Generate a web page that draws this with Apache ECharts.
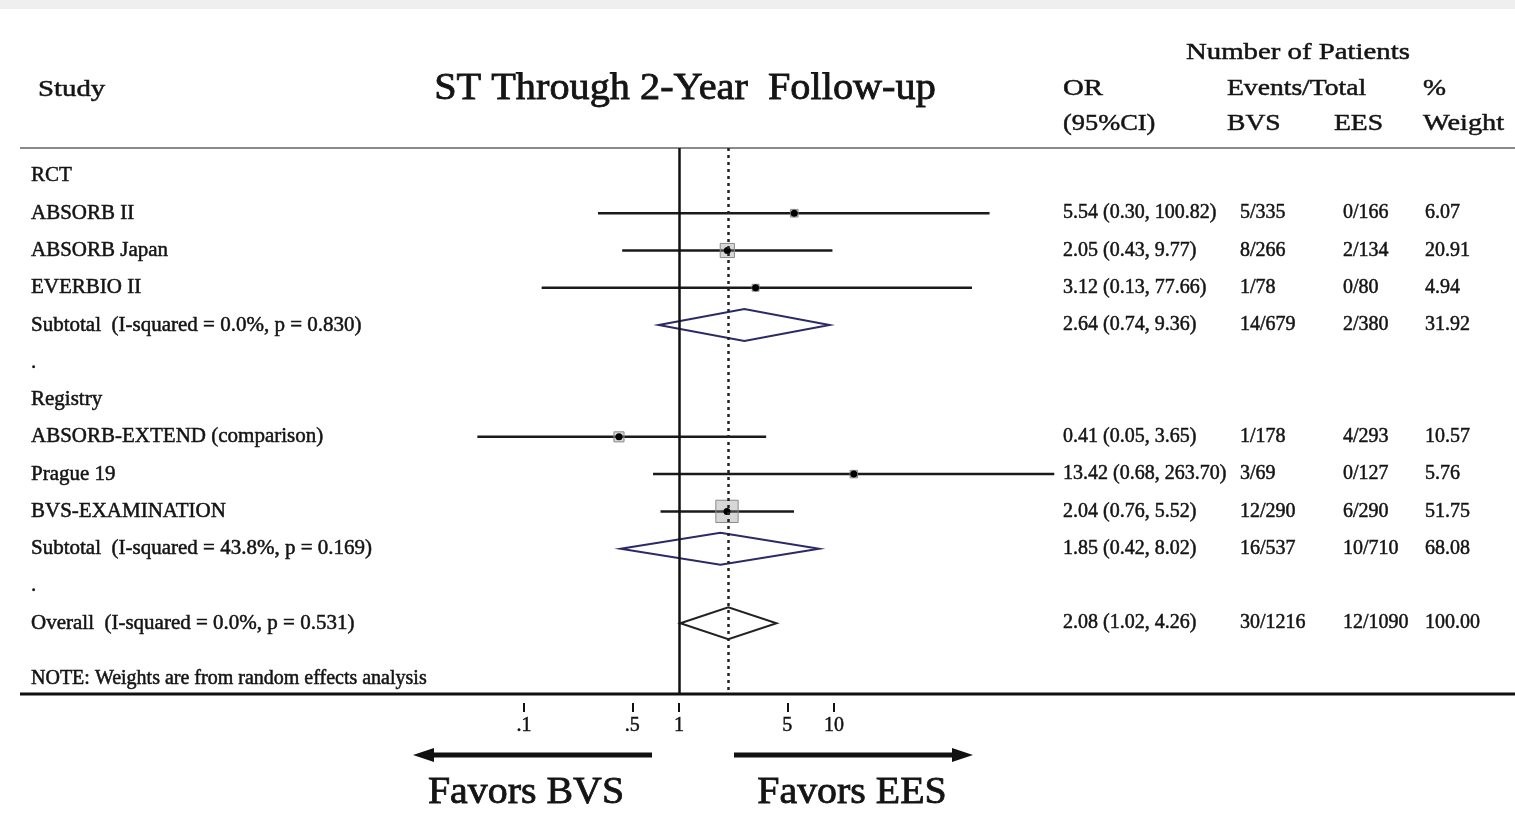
<!DOCTYPE html>
<html>
<head>
<meta charset="utf-8">
<title>ST Through 2-Year Follow-up</title>
<script src="https://cdn.jsdelivr.net/npm/echarts@6/dist/echarts.min.js"></script>
<style>
html, body { margin: 0; padding: 0; background: #fff; }
#main { width: 1515px; height: 828px; }
</style>
</head>
<body>
<div id="main"></div>
<script>
// forest plot rows, top to bottom
var studies = ['RCT', 'ABSORB II', 'ABSORB Japan', 'EVERBIO II',
    'Subtotal  (I-squared = 0.0%, p = 0.830)', '.',
    'Registry', 'ABSORB-EXTEND (comparison)', 'Prague 19', 'BVS-EXAMINATION',
    'Subtotal  (I-squared = 43.8%, p = 0.169)', '.',
    'Overall  (I-squared = 0.0%, p = 0.531)'];
var rowKind = ['group', 'study', 'study', 'study', 'pooled', 'gap',
    'group', 'study', 'study', 'study', 'pooled', 'gap', 'pooled'];
var oddsRatio = [null, 5.54, 2.05, 3.12, 2.64, null, null, 0.41, 13.42, 2.04, 1.85, null, 2.08];
var ciLow = [null, 0.30, 0.43, 0.13, 0.74, null, null, 0.05, 0.68, 0.76, 0.42, null, 1.02];
var ciHigh = [null, 100.82, 9.77, 77.66, 9.36, null, null, 3.65, 263.70, 5.52, 8.02, null, 4.26];
var bvsEvents = ['', '5/335', '8/266', '1/78', '14/679', '', '', '1/178', '3/69', '12/290', '16/537', '', '30/1216'];
var eesEvents = ['', '0/166', '2/134', '0/80', '2/380', '', '', '4/293', '0/127', '6/290', '10/710', '', '12/1090'];
var weights = [null, 6.07, 20.91, 4.94, 31.92, null, null, 10.57, 5.76, 51.75, 68.08, null, 100.00];
var tickValues = [0.1, 0.5, 1, 5, 10];
var tickLabels = ['.1', '.5', '1', '5', '10'];
var overallOR = 2.08;

var lg = function (v) { return Math.log10(v); };
var serif = '"Liberation Serif", "DejaVu Serif", serif';
var ink = '#141414';

function ciText(i) {
    if (oddsRatio[i] == null) return '';
    return oddsRatio[i].toFixed(2) + ' (' + ciLow[i].toFixed(2) + ', ' + ciHigh[i].toFixed(2) + ')';
}

function txt(x, y, s, size, opts) {
    opts = opts || {};
    return {
        type: 'text',
        x: x, y: y,
        scaleX: opts.scaleX || 1,
        style: {
            x: 0, y: 0, text: s,
            font: size + 'px ' + serif,
            fill: opts.fill || ink,
            stroke: ink,
            lineWidth: opts.heavy || 0.5,
            align: opts.align || 'left',
            verticalAlign: 'middle'
        },
        z: 10
    };
}

function renderRow(params, api) {
    var i = api.value(1);
    var y = api.coord([0, i])[1];
    var kids = [];
    kids.push(txt(31, y, studies[i], 21));
    if (oddsRatio[i] != null) {
        kids.push(txt(1063, y, ciText(i), 20));
        kids.push(txt(1240, y, bvsEvents[i], 20));
        kids.push(txt(1343, y, eesEvents[i], 20));
        kids.push(txt(1425, y, weights[i].toFixed(2), 20));
    }
    if (rowKind[i] === 'study') {
        var a = api.coord([lg(ciLow[i]), i]);
        var b = api.coord([lg(ciHigh[i]), i]);
        var c = api.coord([lg(oddsRatio[i]), i]);
        var s = 3.1 * Math.sqrt(weights[i]);
        kids.push({ type: 'line', shape: { x1: a[0], y1: y, x2: b[0], y2: y },
            style: { stroke: '#1a1a1a', lineWidth: 2.5 } });
        kids.push({ type: 'rect', shape: { x: c[0] - s / 2, y: y - s / 2, width: s, height: s },
            style: { fill: 'rgba(140,140,140,0.35)', stroke: '#8a8a8a', lineWidth: 1 } });
        kids.push({ type: 'circle', shape: { cx: c[0], cy: y, r: 3.5 }, style: { fill: '#000' } });
    } else if (rowKind[i] === 'pooled') {
        var l = api.coord([lg(ciLow[i]), i]);
        var r = api.coord([lg(ciHigh[i]), i]);
        var m = api.coord([lg(oddsRatio[i]), i]);
        var h = 16;
        kids.push({ type: 'polygon',
            shape: { points: [[l[0], y], [m[0], y - h], [r[0], y], [m[0], y + h]] },
            style: { fill: 'none', stroke: i === 12 ? '#222' : '#2a2a66', lineWidth: 2 } });
    }
    return { type: 'group', children: kids };
}

var rowData = studies.map(function (s, i) { return [0, i]; });

var myChart = echarts.init(document.getElementById('main'));
var option = {
    backgroundColor: '#fff',
    animation: false,
    grid: { left: 369, right: 371, top: 148, bottom: 134 },
    xAxis: {
        type: 'value',
        position: 'bottom',
        offset: 9,
        min: -2, max: 3,
        splitLine: { show: false },
        axisLine: { show: false, onZero: false },
        axisTick: {
            show: true, length: 9,
            customValues: tickValues.map(lg),
            lineStyle: { color: '#111', width: 2 }
        },
        axisLabel: {
            customValues: tickValues.map(lg),
            margin: 13,
            color: ink,
            fontFamily: serif,
            fontSize: 20,
            textBorderColor: ink,
            textBorderWidth: 0.5,
            formatter: function (v) {
                for (var k = 0; k < tickValues.length; k++) {
                    if (Math.abs(lg(tickValues[k]) - v) < 1e-6) return tickLabels[k];
                }
                return '';
            }
        }
    },
    yAxis: { type: 'value', inverse: true, min: -0.75, max: 13.9, show: false },
    graphic: [
        { type: 'rect', shape: { x: 0, y: 0, width: 1515, height: 9 }, style: { fill: '#efefef' } },
        { type: 'line', shape: { x1: 20, y1: 148, x2: 1515, y2: 148 }, style: { stroke: '#8a8a8a', lineWidth: 2 } },
        { type: 'line', shape: { x1: 20, y1: 694, x2: 1515, y2: 694 }, style: { stroke: '#111', lineWidth: 3 } },
        txt(38, 90, 'Study', 24, { scaleX: 1.2 }),
        txt(685, 89, 'ST Through 2-Year  Follow-up', 38, { align: 'center', scaleX: 1.06, heavy: 0.8 }),
        txt(1186, 53, 'Number of Patients', 24, { scaleX: 1.2 }),
        txt(1063, 89, 'OR', 24, { scaleX: 1.2 }),
        txt(1063, 124, '(95%CI)', 24, { scaleX: 1.1 }),
        txt(1227, 89, 'Events/Total', 24, { scaleX: 1.15 }),
        txt(1227, 124, 'BVS', 24, { scaleX: 1.15 }),
        txt(1334, 124, 'EES', 24, { scaleX: 1.15 }),
        txt(1423, 89, '%', 24, { scaleX: 1.15 }),
        txt(1423, 124, 'Weight', 24, { scaleX: 1.18 }),
        txt(31, 679, 'NOTE: Weights are from random effects analysis', 20),
        // direction arrows
        { type: 'line', shape: { x1: 430, y1: 755, x2: 652, y2: 755 }, style: { stroke: '#111', lineWidth: 5 } },
        { type: 'polygon', shape: { points: [[413, 755], [434, 748], [434, 762]] }, style: { fill: '#111' } },
        { type: 'line', shape: { x1: 734, y1: 755, x2: 956, y2: 755 }, style: { stroke: '#111', lineWidth: 5 } },
        { type: 'polygon', shape: { points: [[973, 755], [952, 748], [952, 762]] }, style: { fill: '#111' } },
        txt(526, 793, 'Favors BVS', 38, { align: 'center', scaleX: 1.05, heavy: 0.8 }),
        txt(852, 793, 'Favors EES', 38, { align: 'center', scaleX: 1.05, heavy: 0.8 })
    ],
    series: [{
        type: 'custom',
        coordinateSystem: 'cartesian2d',
        clip: false,
        encode: { x: 0, y: 1 },
        data: rowData,
        renderItem: renderRow,
        markLine: {
            silent: true,
            symbol: 'none',
            label: { show: false },
            data: [
                { xAxis: 0, lineStyle: { type: 'solid', color: '#111', width: 2.5 } },
                { xAxis: lg(overallOR), lineStyle: { type: [3, 4], color: '#222', width: 2.5 } }
            ]
        }
    }]
};
myChart.setOption(option);
</script>
</body>
</html>
